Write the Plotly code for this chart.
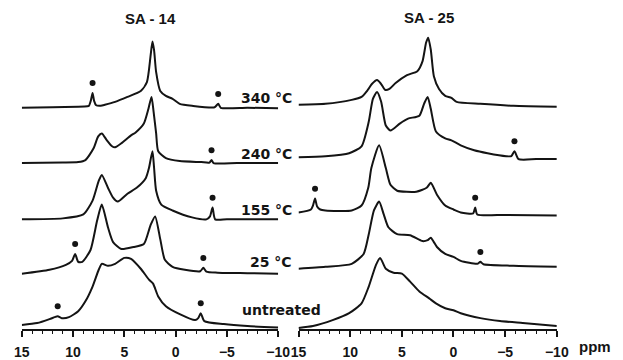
import numpy as np
import plotly.graph_objects as go

# The page body adds an 8px margin; the figure is sized/positioned to compensate.
OFF = 8
W, H = 623 - OFF, 360 - OFF
AX_Y = 333 - OFF  # pixel row of the ppm axis line (figure coords)

# ---------------- data (ppm, intensity above baseline) ----------------
trace_labels = ["340 °C", "240 °C", "155 °C", "25 °C", "untreated"]
panel_titles = ["SA - 14", "SA - 25"]
tick_vals = [15, 10, 5, 0, -5, -10]
tick_text = ["15", "10", "5", "0", "\u22125", "\u221210"]

# SA-14
sa14_340_ppm = [15, 12, 9.5, 8.6, 8.45, 8.25, 8.1, 7.95, 7.75, 7.3, 6.9, 5.9, 4.7, 3.4, 2.8, 2.45, 2.26, 2.1, 1.9, 1.5, 0.95, 0.3, -0.4, -1.6, -3.8, -4.15, -4.4, -7, -10]
sa14_340_int = [0, 0.5, 1, 1.5, 2, 8, 15, 7, 2.5, 2, 3, 6, 11, 17, 26, 52, 67, 58, 36, 17, 12, 9, 4, 2, 0.5, 4, 0, 0, -0.5]

sa14_240_ppm = [15, 11, 9.5, 8.8, 8.0, 7.55, 7.2, 6.7, 6.2, 5.9, 5.3, 4.35, 3.9, 3.1, 2.65, 2.35, 2.15, 1.9, 1.7, 0.95, -0.4, -2.5, -3.3, -3.5, -3.7, -6, -10]
sa14_240_int = [0, 0.5, 1, 3, 15, 27, 30, 23, 17, 16, 20, 28, 31, 40, 55, 67, 52, 30, 12, 5, 2, 1, 0.5, 3, 0, 0, 0]

sa14_155_ppm = [15, 11, 9.0, 8.1, 7.5, 7.2, 6.6, 6.1, 5.65, 4.7, 3.8, 2.9, 2.6, 2.26, 2.1, 1.9, 1.4, 0.3, -1.6, -3.0, -3.35, -3.6, -3.85, -5, -10]
sa14_155_int = [0, 1, 5, 19, 39, 45, 32, 22, 18, 26, 32, 42, 52, 69, 52, 29, 15, 9, 2, 0, 3, 12, 0, 0, 0]

sa14_25_ppm = [15, 12.3, 10.7, 10.1, 9.8, 9.5, 9.1, 8.3, 7.65, 7.2, 6.6, 6.1, 5.3, 4.1, 3.1, 2.45, 2.0, 1.5, 1.05, 0.3, -0.9, -2.4, -2.7, -3.0, -4.1, -7, -10]
sa14_25_int = [0, 4, 9, 13, 20, 12, 12, 24, 54, 70, 47, 32, 25, 27, 30, 49, 58, 35, 14, 7, 4, 2.5, 6, 2, 1, 0.5, 0]

sa14_un_ppm = [15, 13.5, 12.3, 11.8, 11.5, 11.1, 10.4, 9.5, 8.8, 8.1, 7.5, 7.2, 6.6, 5.9, 5.0, 4.35, 3.4, 2.6, 2.2, 1.7, 0.95, -0.4, -1.9, -2.2, -2.45, -2.8, -4.7, -7, -10]
sa14_un_int = [3, 5, 9, 11, 12, 10, 11, 17, 27, 42, 59, 65, 63, 65, 71, 70, 60, 49, 45, 32, 22, 14, 8, 10, 15, 7, 4, 2, 0.5]

# SA-25
sa25_340_ppm = [15, 12.4, 9.85, 8.9, 8.3, 7.9, 7.4, 7.0, 6.6, 6.2, 5.6, 4.5, 3.5, 3.0, 2.65, 2.45, 2.2, 1.9, 1.4, 0.8, 0.2, -0.3, -2.6, -5.8, -10]
sa25_340_int = [2, 3, 7, 10, 17, 23, 27, 23, 17, 18, 24, 32, 36, 46, 65, 70, 58, 31, 18, 11, 9, 5, 3, 1, 0]

sa25_240_ppm = [15, 12.4, 10.1, 8.9, 8.2, 7.8, 7.4, 7.0, 6.55, 6.1, 5.2, 4.4, 3.3, 2.85, 2.5, 2.2, 1.7, 0.8, 0.2, -0.7, -2.0, -3.3, -5.1, -5.6, -5.9, -6.3, -8, -10]
sa25_240_int = [2, 3, 6, 13, 38, 61, 68, 58, 34, 29, 36, 41, 44, 56, 63, 51, 28, 21, 19, 14, 9, 6, 3, 3, 8, 0, 0, 0]

sa25_155_ppm = [15, 13.8, 13.6, 13.4, 13.2, 12.9, 12.4, 9.85, 8.9, 8.25, 7.95, 7.2, 6.55, 6.1, 5.45, 3.6, 2.6, 2.2, 1.6, 0.8, 0.0, -0.7, -1.9, -2.1, -2.3, -5, -10]
sa25_155_int = [2, 5, 9, 16, 8, 5, 4, 4, 9, 27, 47, 70, 47, 30, 24, 23, 27, 32, 20, 9, 5, 2, 1, 7, 0, -0.5, -1]

sa25_25_ppm = [15, 12.4, 9.85, 8.7, 8.2, 7.7, 7.2, 6.75, 6.3, 5.45, 4.2, 3.0, 2.5, 2.2, 1.9, 1.6, 0.8, 0.0, -0.7, -2.3, -2.6, -2.9, -5.8, -10]
sa25_25_int = [-1, 1, 4, 14, 34, 58, 67, 54, 41, 34, 33, 27, 28, 30.5, 26, 21, 14, 11, 7, 4, 6, 3.5, 2, 1]

sa25_un_ppm = [15, 13.6, 11.7, 10.1, 8.9, 8.2, 7.5, 7.1, 6.55, 5.8, 5.0, 4.2, 3.3, 2.35, 1.7, 0.8, 0.0, -0.7, -2.6, -4.5, -6.7, -10]
sa25_un_int = [0, 2, 8, 15, 25, 42, 64, 71, 60, 56, 55, 47, 37, 30, 25, 20, 18, 15, 10, 7, 5, 2]

# spinning-sideband markers (*) : ppm position, trace index
sa14_star_ppm = [8.1, -4.15, -3.5, -3.6, 9.8, -2.7, 11.5, -2.45]
sa14_star_trace = [0, 0, 1, 2, 3, 3, 4, 4]
sa25_star_ppm = [-5.9, 13.4, -2.1, -2.6]
sa25_star_trace = [1, 2, 2, 3]

# ---------------- layout constants (reference pixel rows / columns) ----------------
left_ppm = [sa14_340_ppm, sa14_240_ppm, sa14_155_ppm, sa14_25_ppm, sa14_un_ppm]
left_int = [sa14_340_int, sa14_240_int, sa14_155_int, sa14_25_int, sa14_un_int]
right_ppm = [sa25_340_ppm, sa25_240_ppm, sa25_155_ppm, sa25_25_ppm, sa25_un_ppm]
right_int = [sa25_340_int, sa25_240_int, sa25_155_int, sa25_25_int, sa25_un_int]
left_base_px = [b - OFF for b in [109, 165, 222, 277, 332]]
right_base_px = [b - OFF for b in [108, 161, 217, 271, 332]]
STAR_GAP = 10
INK = "#141414"
FONT = "Liberation Sans"
LABEL_FONT = "DejaVu Sans"

fig = go.Figure()


def add_panel(ppms, ints, bases, xa):
    for p, v, b in zip(ppms, ints, bases):
        off = AX_Y - b
        fig.add_trace(go.Scatter(
            x=p, y=np.array(v, dtype=float) + off, mode="lines",
            line=dict(color=INK, width=2, shape="spline", smoothing=0.6),
            xaxis=xa, yaxis="y", hoverinfo="skip", showlegend=False))


def add_stars(sppm, strc, ppms, ints, bases, xa):
    ys = []
    for sp, ti in zip(sppm, strc):
        p = np.array(ppms[ti])[::-1]
        v = np.array(ints[ti], dtype=float)[::-1]
        ys.append(np.interp(sp, p, v) + AX_Y - bases[ti] + STAR_GAP)
    fig.add_trace(go.Scatter(
        x=sppm, y=ys, mode="markers",
        marker=dict(symbol="circle", size=6, color=INK),
        xaxis=xa, yaxis="y", hoverinfo="skip", showlegend=False))


add_panel(left_ppm, left_int, left_base_px, "x")
add_panel(right_ppm, right_int, right_base_px, "x2")
add_stars(sa14_star_ppm, sa14_star_trace, left_ppm, left_int, left_base_px, "x")
add_stars(sa25_star_ppm, sa25_star_trace, right_ppm, right_int, right_base_px, "x2")

tickfont = dict(family=FONT, size=14, color=INK, weight="bold")


def xaxis(domain):
    return dict(
        domain=domain, range=[15, -10], anchor="y",
        tickmode="array", tickvals=tick_vals, ticktext=tick_text,
        ticks="outside", ticklen=6, tickwidth=1.6, tickcolor=INK,
        minor=dict(tickmode="linear", tick0=0, dtick=1, ticks="outside",
                   ticklen=3, tickwidth=1.2, tickcolor=INK),
        showline=True, linewidth=2, linecolor=INK,
        showgrid=False, zeroline=False, tickfont=tickfont,
        ticklabelstandoff=3, fixedrange=True)


def px(x):
    return (x - OFF) / W


def py(y):
    return (AX_Y - (y - OFF)) / AX_Y


label_font = dict(family=LABEL_FONT, size=14, color=INK, weight="bold")
annotations = []
for lab, ypx in zip(trace_labels[:4], [99, 156, 213, 265]):
    annotations.append(dict(text=lab, x=px(295), y=py(ypx), xref="paper", yref="paper",
                            xanchor="right", yanchor="middle", showarrow=False,
                            font=label_font))
annotations.append(dict(text=trace_labels[4], x=px(240), y=py(314), xref="paper", yref="paper",
                        xanchor="left", yanchor="middle", showarrow=False,
                        font=label_font))
for t, xc, yc in zip(panel_titles, [147, 435], [19, 18]):
    annotations.append(dict(text=t, x=px(xc), y=py(yc), xref="paper", yref="paper",
                            xanchor="center", yanchor="middle", showarrow=False,
                            font=dict(family=FONT, size=15, color=INK, weight="bold")))
annotations.append(dict(text="ppm", x=px(588), y=py(351), xref="paper", yref="paper",
                        xanchor="left", yanchor="middle", showarrow=False,
                        font=dict(family=FONT, size=15, color=INK, weight="bold")))

fig.update_layout(
    width=W, height=H,
    margin=dict(l=0, r=0, t=0, b=H - AX_Y, pad=0),
    paper_bgcolor="white", plot_bgcolor="white",
    xaxis=xaxis([(14 - OFF) / W, (279 - OFF) / W]),
    xaxis2=xaxis([(300 - OFF) / W, (567 - OFF) / W]),
    yaxis=dict(range=[0, AX_Y], visible=False, fixedrange=True),
    annotations=annotations,
    showlegend=False,
)

fig.write_html("out.html")
